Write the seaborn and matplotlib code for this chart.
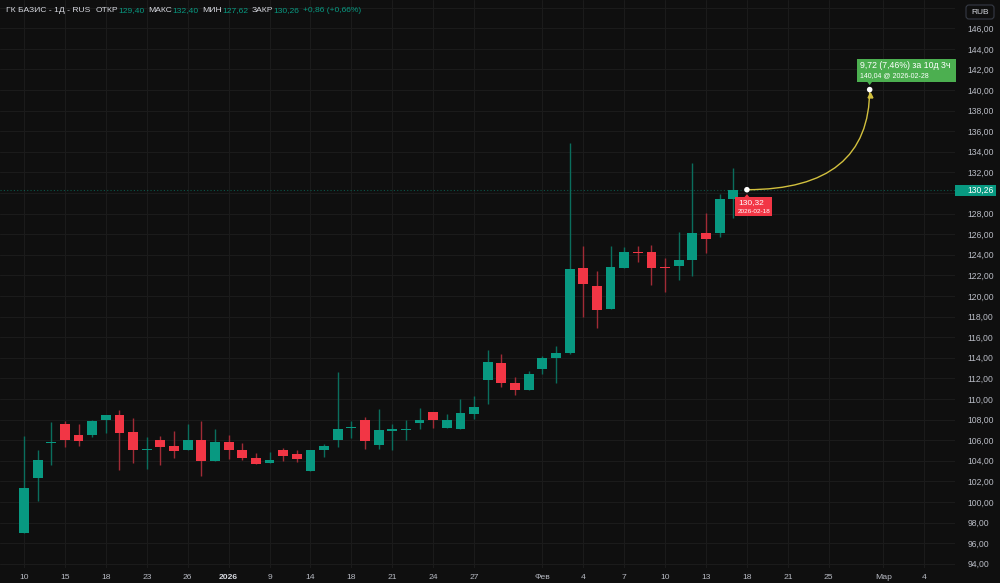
import matplotlib
matplotlib.use("Agg")
import matplotlib.pyplot as plt
import seaborn as sns
import pandas as pd
from matplotlib.path import Path
from matplotlib.patches import PathPatch, Rectangle, Polygon, FancyBboxPatch
from matplotlib.transforms import IdentityTransform
from matplotlib.ticker import FuncFormatter

# ---- data (daily candles, 10 Dec 2025 .. 17 Feb 2026) ----
opens = [97.02, 102.30, 105.75, 107.54, 106.48, 106.53, 107.99, 108.45, 106.77, 105.05,
         106.02, 105.44, 105.05, 106.02, 103.98, 105.83, 105.05, 104.30, 103.82, 105.05,
         104.63, 103.01, 105.02, 105.99, 107.16, 107.96, 105.53, 106.93, 106.99, 107.64,
         108.74, 107.16, 107.09, 108.51, 111.87, 113.50, 111.55, 110.84, 112.88, 113.95,
         114.50, 122.69, 120.97, 118.74, 122.72, 124.25, 124.24, 122.78, 122.91, 123.52,
         126.12, 126.15, 129.40]
highs = [106.44, 105.05, 107.77, 107.86, 107.54, 107.96, 108.45, 108.93, 108.18, 106.34,
         106.41, 106.89, 107.54, 107.83, 107.06, 106.50, 105.76, 104.73, 104.88, 105.21,
         105.05, 105.02, 105.63, 112.59, 107.86, 108.25, 109.00, 107.54, 107.96, 109.10,
         108.74, 108.51, 110.00, 110.32, 114.76, 114.37, 112.14, 112.72, 114.17, 115.15,
         134.83, 124.83, 122.43, 124.85, 124.79, 124.85, 124.95, 123.72, 126.18, 132.91,
         128.03, 129.90, 132.40]
lows = [97.00, 100.10, 103.62, 105.37, 105.47, 106.34, 106.73, 103.11, 103.76, 103.17,
        103.62, 104.30, 105.05, 102.50, 103.98, 104.17, 104.08, 103.67, 103.82, 104.01,
        103.91, 103.01, 104.34, 105.37, 106.21, 105.12, 105.17, 105.05, 106.02, 107.06,
        107.18, 107.16, 107.09, 108.03, 109.51, 111.14, 110.39, 110.84, 112.40, 111.55,
        114.40, 118.00, 116.92, 118.74, 122.72, 123.27, 121.07, 120.36, 121.58, 121.97,
        124.15, 125.76, 127.62]
closes = [101.33, 104.05, 105.85, 106.02, 105.95, 107.90, 108.45, 106.73, 105.02, 105.12,
          105.37, 104.98, 106.02, 103.98, 105.83, 105.02, 104.30, 103.72, 104.05, 104.50,
          104.17, 105.02, 105.47, 107.12, 107.28, 105.95, 107.02, 106.97, 107.04, 107.99,
          107.96, 107.96, 108.67, 109.19, 113.56, 111.58, 110.84, 112.40, 113.95, 114.50,
          122.59, 121.17, 118.64, 122.82, 124.27, 124.15, 122.72, 122.70, 123.50, 126.15,
          125.50, 129.40, 130.26]

# bar index -> date label on the time axis
tick_bars = [0, 3, 6, 9, 12, 15, 18, 21, 24, 27, 30, 33, 38, 41, 44, 47, 50, 53, 56, 59, 63, 66]
tick_labels = ["10", "15", "18", "23", "26", "2026", "9", "14", "18", "21", "24", "27",
               "Фев", "4", "7", "10", "13", "18", "21", "25", "Мар", "4"]
price_ticks = list(range(94, 149, 2))

# forecast drawing
fc_start_bar, fc_start_price, fc_start_date = 53, 130.32, "2026-02-18"
fc_end_bar, fc_end_price, fc_end_date = 62, 140.04, "2026-02-28"
fc_span = "10д 3ч"

BG = "#0f0f0f"
GRID = "#1b1b1b"
UP, DOWN = "#089981", "#f23645"
UP_WICK, DOWN_WICK = "#0a6e5d", "#a12b36"
TXT = "#b8bbc4"
LBL = "#d6d8df"
YEL = "#d2c03e"

sns.set_theme(style="dark")
plt.rcParams["font.family"] = ["Liberation Sans", "DejaVu Sans"]


def fmt(v):
    return f"{v:.2f}".replace(".", ",")


df = pd.DataFrame({"open": opens, "high": highs, "low": lows, "close": closes})
df["bar"] = range(len(df))
df["up"] = df["close"] >= df["open"]

fig = plt.figure(figsize=(10, 5.83), dpi=100, facecolor=BG)
ax = fig.add_axes([0, 15 / 583, 955 / 1000, 568 / 583], facecolor=BG)

bar_px = 13.64
ax.set_xlim(-24 / bar_px, (955 - 24) / bar_px)
ax.set_ylim(93.59, 148.74)

# wicks
ax.vlines(df["bar"], df["low"], df["high"],
          colors=[UP_WICK if u else DOWN_WICK for u in df["up"]], lw=1.0, zorder=2)
# bodies
body_lo = df[["open", "close"]].min(axis=1)
body_h = (df["close"] - df["open"]).abs().clip(lower=0.12)
ax.bar(df["bar"], body_h, bottom=body_lo, width=0.72,
       color=[UP if u else DOWN for u in df["up"]], edgecolor="none", zorder=3)

# last price dotted line
last = closes[-1]
ax.axhline(last, color=UP, lw=0.8, ls=(0, (1, 2)), alpha=0.5, zorder=1)

# forecast curve (quadratic bezier)
verts = [(fc_start_bar, fc_start_price), (fc_end_bar, fc_start_price), (fc_end_bar, fc_end_price)]
curve = Path(verts, [Path.MOVETO, Path.CURVE3, Path.CURVE3])
ax.add_patch(PathPatch(curve, fill=False, ec=YEL, lw=1.0, zorder=4))
ax.plot([fc_end_bar], [fc_end_price - 0.5], marker="^", ms=3.5, color=YEL, zorder=5)
sns.scatterplot(x=[fc_start_bar, fc_end_bar], y=[fc_start_price, fc_end_price], ax=ax,
                color="white", s=16, edgecolor="none", zorder=6, legend=False)

# axes styling
for s in ax.spines.values():
    s.set_visible(False)
ax.set_xlabel("")
ax.set_ylabel("")
ax.set_xticks(tick_bars)
ax.set_xticklabels(tick_labels)
ax.set_yticks(price_ticks)
ax.yaxis.tick_right()
ax.yaxis.set_major_formatter(FuncFormatter(
    lambda v, p: "" if abs(v - round(last)) < 0.01 or v > 146.5 else fmt(v)))
ax.tick_params(axis="y", length=0, pad=9, labelsize=6.2, labelcolor=TXT)
ax.tick_params(axis="x", length=0, pad=4, labelsize=6.1, labelcolor=TXT)
for t in ax.get_xticklabels():
    if t.get_text() == "2026":
        t.set_fontweight("bold")
        t.set_color(LBL)
ax.grid(True, color=GRID, lw=0.8)
ax.set_axisbelow(True)

fig.canvas.draw()
renderer = fig.canvas.get_renderer()
to_px = ax.transData.transform
H = 583


def box(x0, y_top, w, h, color):
    fig.add_artist(Rectangle((x0, H - y_top - h), w, h, transform=IdentityTransform(),
                             fc=color, ec="none", zorder=10))


def tri(pts, color):
    fig.add_artist(Polygon([(x, H - y) for x, y in pts], closed=True,
                           transform=IdentityTransform(), fc=color, ec="none", zorder=10))


def ptext(x, y, s, **kw):
    return fig.text(x / 1000, 1 - y / H, s, zorder=11, **kw)


# price scale label for last close
_, ly = to_px((0, last))
ly = H - ly
box(955, ly - 5.5, 41, 11, UP)
ptext(981, ly, fmt(last), color="white", fontsize=6.2, ha="center", va="center")

# start label (red)
sx, sy = to_px((fc_start_bar, fc_start_price))
sy = H - sy
box(sx - 12, sy + 7.5, 37, 18.5, DOWN)
tri([(sx - 3, sy + 8), (sx + 3, sy + 8), (sx, sy + 4.5)], DOWN)
ptext(sx - 9, sy + 13.3, fmt(fc_start_price), color="white", fontsize=6.0, va="center")
ptext(sx - 9, sy + 21.5, fc_start_date, color="white", fontsize=4.6, va="center")

# end label (green)
ex, ey = to_px((fc_end_bar, fc_end_price))
ey = H - ey
GREEN = "#4caf50"
box(ex - 13, ey - 31, 99, 23, GREEN)
tri([(ex - 3, ey - 8.5), (ex + 3, ey - 8.5), (ex, ey - 4.5)], GREEN)
diff = fc_end_price - fc_start_price
pct = diff / fc_start_price * 100
ptext(ex - 9.5, ey - 24.5, f"{fmt(diff)} ({fmt(pct)}%) за {fc_span}",
      color="white", fontsize=6.3, va="center")
ptext(ex - 9.5, ey - 14.5, f"{fmt(fc_end_price)} @ {fc_end_date}",
      color="white", fontsize=5.0, va="center")

# header legend, pieces chained left to right
chg = closes[-1] - closes[-2]
chg_pct = chg / closes[-2] * 100
pieces = [
    ("ГК БАЗИС - 1Д - RUS", LBL, 5),
    ("ОТКР", LBL, 0), (fmt(opens[-1]), UP, 4),
    ("МАКС", LBL, 0), (fmt(highs[-1]), UP, 4),
    ("МИН", LBL, 0), (fmt(lows[-1]), UP, 4),
    ("ЗАКР", LBL, 0), (fmt(closes[-1]), UP, 4),
    (f"+{fmt(chg)} (+{fmt(chg_pct)}%)", UP, 0),
]
x = 6
for s, c, gap in pieces:
    t = ptext(x, 11, s, color=c, fontsize=6.1, va="center")
    x += t.get_window_extent(renderer).width + gap

# currency badge
fig.add_artist(FancyBboxPatch((966, H - 19), 28, 14, boxstyle="round,pad=0,rounding_size=3",
                              transform=IdentityTransform(), fc=BG, ec="#363a45", lw=0.8, zorder=10))
ptext(980, 12, "RUB", color=LBL, fontsize=6.0, ha="center", va="center")

fig.savefig("out.png", dpi=100, facecolor=BG)
